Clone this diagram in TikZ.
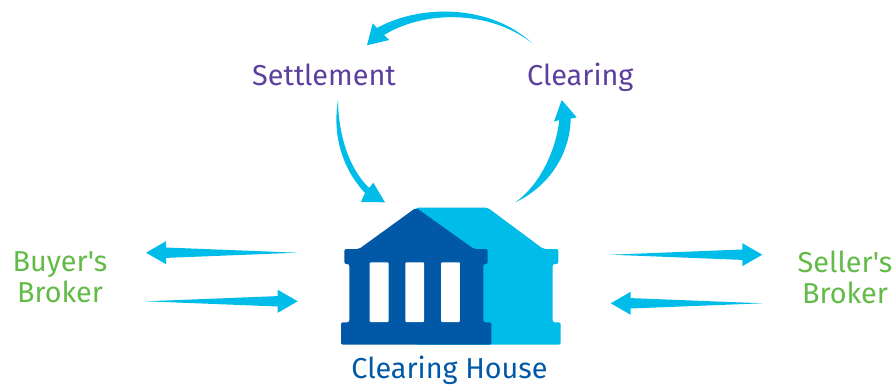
\documentclass[tikz,border=0pt]{standalone}
\usepackage{fontspec}
\setmainfont[Ligatures=TeXOff]{Fira Sans}
\usetikzlibrary{positioning,calc}
\definecolor{flowcyan}{HTML}{00BCE8}
\definecolor{bankblue}{HTML}{0058A6}
\definecolor{stepviolet}{HTML}{5C3F9E}
\definecolor{brokergreen}{HTML}{62BB46}
\tikzset{
  flow/.style={fill=flowcyan},
  steplabel/.style={text=stepviolet,font=\fontsize{28.8}{29}\selectfont,inner sep=0pt},
  brokerlabel/.style={text=brokergreen,font=\fontsize{28.8}{31}\selectfont,inner sep=0pt,align=center},
}
% tapered straight arrow, from tail to tip
\newcommand{\flowarrow}[2]{
  \fill[flow] (#1) -- ($(#2)!20pt!(#1)!5.2pt!90:(#1)$) -- ($(#2)!20pt!(#1)!11.5pt!90:(#1)$) -- (#2)
    -- ($(#2)!20pt!(#1)!11.5pt!-90:(#1)$) -- ($(#2)!20pt!(#1)!5.2pt!-90:(#1)$) -- cycle;
}
\begin{document}
\begin{tikzpicture}[x=1pt,y=-1pt]
  \useasboundingbox (0,0) rectangle (895,385);
  \node[steplabel] (settlement) at (324,75) {Settlement};
  \node[steplabel] (clearing) [base right=131pt of settlement] {Clearing};
  \node[brokerlabel] (buyer) at (60,277) {Buyer's\\Broker};
  \node[brokerlabel] (seller) at (845,277) {Seller's\\Broker};
  \node[text=bankblue,font=\fontsize{28.8}{29}\selectfont,inner sep=0pt] (house) at (449.5,370) {Clearing House};
  % building, back
  \fill[flowcyan,rounded corners=2pt] (416,207.7) -- (487.7,207.7) -- (543.3,249) -- (558.3,249) -- (558.3,264)
    -- (552.7,264) -- (552.7,322.3) -- (560.7,322.3) -- (560.7,344.7) -- (416,344.7) -- cycle;
  % building, front
  \fill[bankblue,rounded corners=2pt] (416,207.7) -- (474,249) -- (487.7,249) -- (487.7,264) -- (483.3,264)
    -- (483.3,322.3) -- (491.3,322.3) -- (491.3,344.7) -- (341,344.7) -- (341,322.3) -- (349.3,322.3)
    -- (349.3,264) -- (344.3,264) -- (344.3,249) -- (359,249) -- cycle;
  \foreach \x in {369.7,405.3,441}
    \fill[white,rounded corners=1pt] (\x,262.3) rectangle ++(18.8,59.7);
  % straight arrows
  \coordinate (a1) at (297.3,252.7); \coordinate (a2) at (146,252.7);
  \coordinate (b1) at (146,301.3);   \coordinate (b2) at (297.7,301.3);
  \coordinate (c1) at (610.7,254.7); \coordinate (c2) at (762.3,254.7);
  \coordinate (d1) at (762.3,303.3); \coordinate (d2) at (610.7,303.3);
  \flowarrow{a1}{a2}
  \flowarrow{b1}{b2}
  \flowarrow{c1}{c2}
  \flowarrow{d1}{d2}
  % curved arrows
  \coordinate (t1) at (532.3,43.3); \coordinate (t2) at (367,45.3);
  \coordinate (l1) at (338,100);    \coordinate (l2) at (385,202.3);
  \coordinate (r1) at (515.3,202.3);\coordinate (r2) at (561.7,100);
  \fill[flow] (t1) .. controls (490,4) and (420,4) .. (377,28) -- (372.7,23.3) -- (t2) -- (389.3,40) -- (384,35)
    .. controls (425,10) and (490,10) .. (t1) -- cycle;
  \fill[flow] (l1) .. controls (333,130) and (339,165) .. (365,193) -- (361,202) -- (l2) -- (373.3,182.7) -- (369.3,188)
    .. controls (345,165) and (338,125) .. (l1) -- cycle;
  \fill[flow] (r1) .. controls (548,187) and (570,155) .. (570.7,118.7) -- (576.7,117.3) -- (r2) -- (554,121.7) -- (559.3,120)
    .. controls (556,150) and (540,185) .. (r1) -- cycle;
\end{tikzpicture}
\end{document}
